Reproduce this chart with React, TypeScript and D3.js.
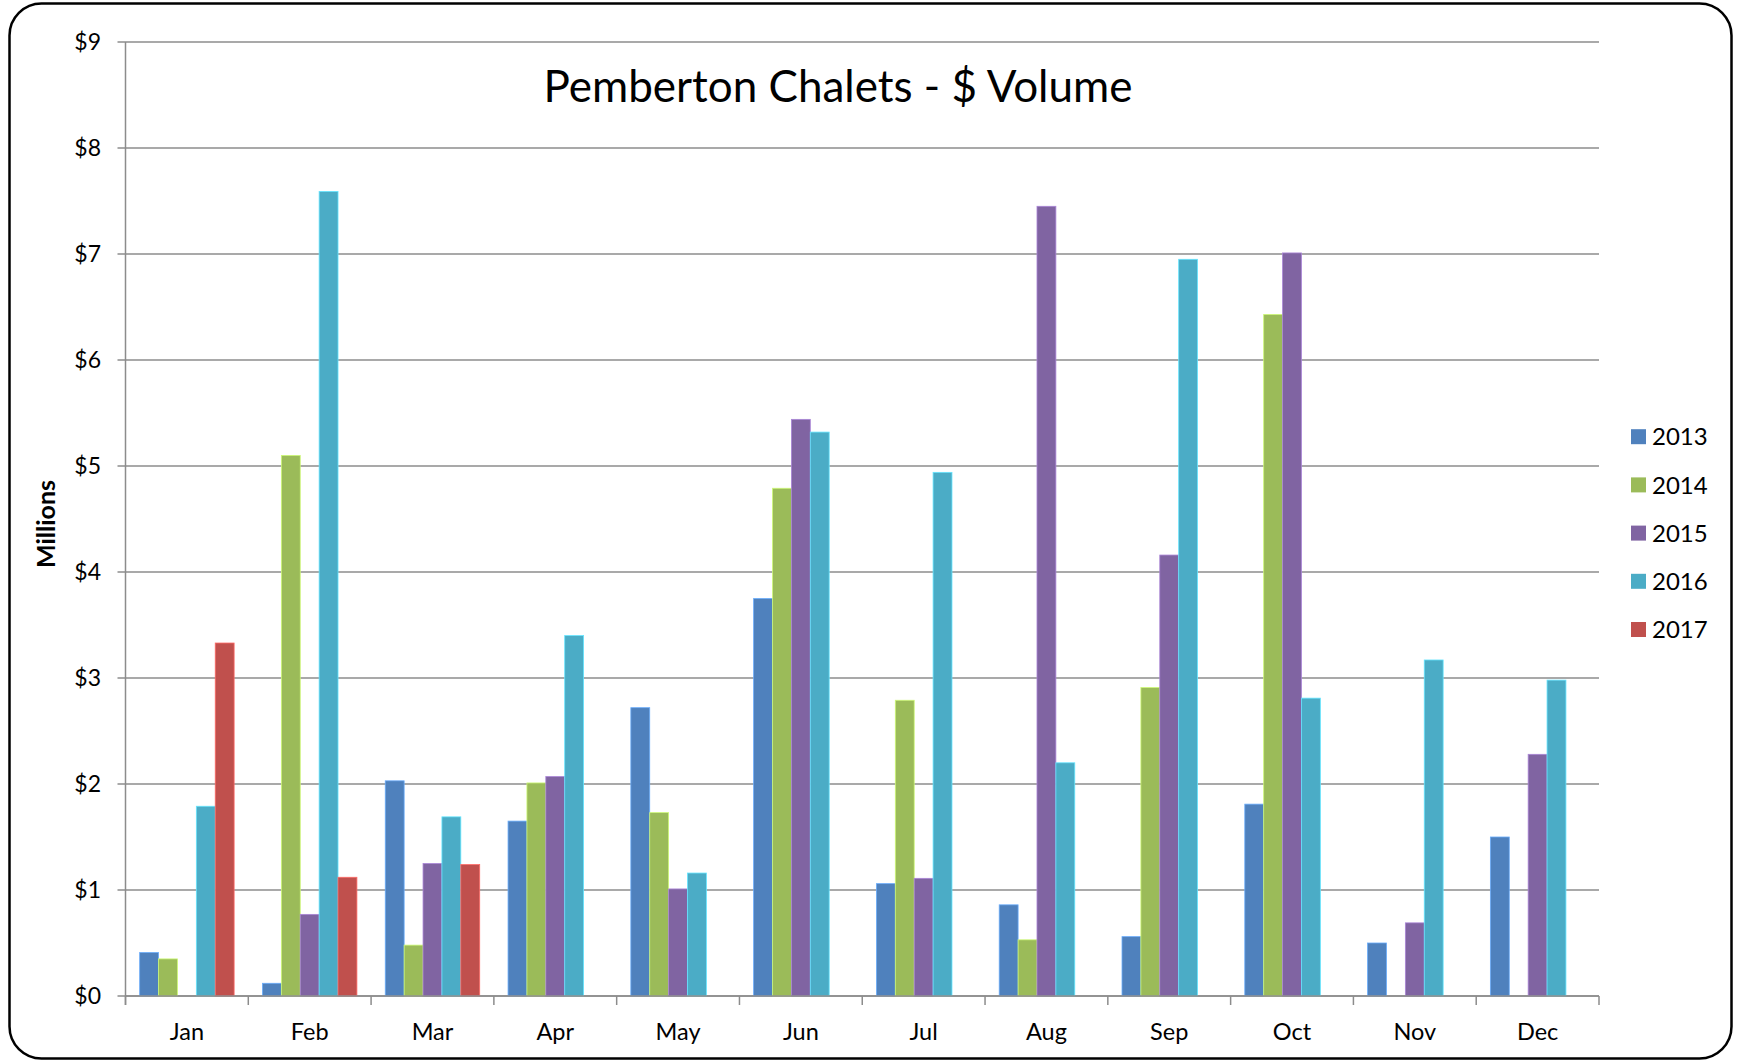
import { useEffect, useRef } from "react";
import * as d3 from "d3";

const months = ["Jan", "Feb", "Mar", "Apr", "May", "Jun", "Jul", "Aug", "Sep", "Oct", "Nov", "Dec"];
const years = ["2013", "2014", "2015", "2016", "2017"];
const colors = ["#4F81BD", "#9BBB59", "#8064A2", "#4BACC6", "#C0504D"];

// $ millions, null = no bar
const v2013 = [0.41, 0.12, 2.03, 1.65, 2.72, 3.75, 1.06, 0.86, 0.56, 1.81, 0.5, 1.5];
const v2014 = [0.35, 5.1, 0.48, 2.01, 1.73, 4.79, 2.79, 0.53, 2.91, 6.43, null, null];
const v2015 = [null, 0.77, 1.25, 2.07, 1.01, 5.44, 1.11, 7.45, 4.16, 7.01, 0.69, 2.28];
const v2016 = [1.79, 7.59, 1.69, 3.4, 1.16, 5.32, 4.94, 2.2, 6.95, 2.81, 3.17, 2.98];
const v2017 = [3.33, 1.12, 1.24, null, null, null, null, null, null, null, null, null];
const series = [v2013, v2014, v2015, v2016, v2017];

const yTicks = [0, 1, 2, 3, 4, 5, 6, 7, 8, 9];

const W = 1739;
const H = 1061;
const plot = { left: 125.5, right: 1599, top: 42, bottom: 996 };
const font = "Lato, 'Open Sans', sans-serif";

export default function App() {
  const ref = useRef<SVGSVGElement>(null);

  useEffect(() => {
    const svg = d3.select(ref.current!);
    svg.selectAll("*").remove();

    svg
      .append("rect")
      .attr("x", 9.5)
      .attr("y", 3.5)
      .attr("width", 1722)
      .attr("height", 1055)
      .attr("rx", 32)
      .attr("fill", "#fff")
      .attr("stroke", "#000")
      .attr("stroke-width", 2.5);

    const x0 = d3.scaleBand<string>().domain(months).range([plot.left, plot.right]).padding(0);
    const x1 = d3
      .scaleBand<string>()
      .domain(years)
      .range([0, x0.bandwidth()])
      .paddingInner(0)
      .paddingOuter(0.75);
    const y = d3.scaleLinear().domain([0, 9]).range([plot.bottom, plot.top]);

    // gridlines
    svg
      .append("g")
      .selectAll("line")
      .data(yTicks)
      .enter()
      .append("line")
      .attr("x1", plot.left - 8)
      .attr("x2", plot.right)
      .attr("y1", (d) => y(d))
      .attr("y2", (d) => y(d))
      .attr("stroke", "#8c8c8c")
      .attr("stroke-width", 1.5);

    svg
      .append("g")
      .selectAll("text")
      .data(yTicks)
      .enter()
      .append("text")
      .attr("x", 101)
      .attr("y", (d) => y(d))
      .attr("dy", "0.35em")
      .attr("text-anchor", "end")
      .attr("font-family", font)
      .attr("font-size", 23)
      .attr("fill", "#000")
      .text((d) => `$${d}`);

    // bars
    const groups = svg
      .append("g")
      .selectAll("g")
      .data(months)
      .enter()
      .append("g")
      .attr("transform", (m) => `translate(${x0(m)},0)`);

    groups.each(function (m, mi) {
      const el = d3.select(this);
      series.forEach((s, si) => {
        const v = s[mi];
        if (v == null) return;
        el.append("rect")
          .attr("x", x1(years[si])!)
          .attr("y", y(v))
          .attr("width", x1.bandwidth())
          .attr("height", y(0) - y(v))
          .attr("fill", colors[si])
          .attr("stroke", d3.color(colors[si])!.brighter(0.8).formatHex())
          .attr("stroke-width", 0.8);
      });
    });

    // axes lines
    svg
      .append("line")
      .attr("x1", plot.left)
      .attr("x2", plot.left)
      .attr("y1", plot.top)
      .attr("y2", plot.bottom + 9)
      .attr("stroke", "#8c8c8c")
      .attr("stroke-width", 1.5);
    svg
      .append("line")
      .attr("x1", plot.left)
      .attr("x2", plot.right)
      .attr("y1", plot.bottom)
      .attr("y2", plot.bottom)
      .attr("stroke", "#8c8c8c")
      .attr("stroke-width", 1.5);

    const boundaries = months.map((m) => x0(m)!).concat([plot.right]);
    svg
      .append("g")
      .selectAll("line")
      .data(boundaries)
      .enter()
      .append("line")
      .attr("x1", (d) => d)
      .attr("x2", (d) => d)
      .attr("y1", plot.bottom)
      .attr("y2", plot.bottom + 9)
      .attr("stroke", "#8c8c8c")
      .attr("stroke-width", 1.5);

    svg
      .append("g")
      .selectAll("text")
      .data(months)
      .enter()
      .append("text")
      .attr("x", (m) => x0(m)! + x0.bandwidth() / 2)
      .attr("y", 1040)
      .attr("text-anchor", "middle")
      .attr("font-family", font)
      .attr("font-size", 23.5)
      .attr("fill", "#000")
      .text((m) => m);

    // title
    svg
      .append("text")
      .attr("x", 838)
      .attr("y", 102)
      .attr("text-anchor", "middle")
      .attr("font-family", font)
      .attr("font-size", 44)
      .attr("fill", "#000")
      .text("Pemberton Chalets - $ Volume");

    svg
      .append("text")
      .attr("transform", "translate(55,524) rotate(-90)")
      .attr("text-anchor", "middle")
      .attr("font-family", font)
      .attr("font-weight", "bold")
      .attr("font-size", 25)
      .attr("fill", "#000")
      .text("Millions");

    // legend
    const leg = svg
      .append("g")
      .selectAll("g")
      .data(years)
      .enter()
      .append("g")
      .attr("transform", (d, i) => `translate(1631,${436.7 + i * 48.2})`);
    leg
      .append("rect")
      .attr("x", 0)
      .attr("y", -7.5)
      .attr("width", 15)
      .attr("height", 15)
      .attr("fill", (d, i) => colors[i]);
    leg
      .append("text")
      .attr("x", 21)
      .attr("y", 0)
      .attr("dy", "0.36em")
      .attr("font-family", font)
      .attr("font-size", 24)
      .attr("fill", "#000")
      .text((d) => d);
  }, []);

  return (
    <svg
      ref={ref}
      width={W}
      height={H}
      style={{ position: "absolute", left: 0, top: 0 }}
    />
  );
}
